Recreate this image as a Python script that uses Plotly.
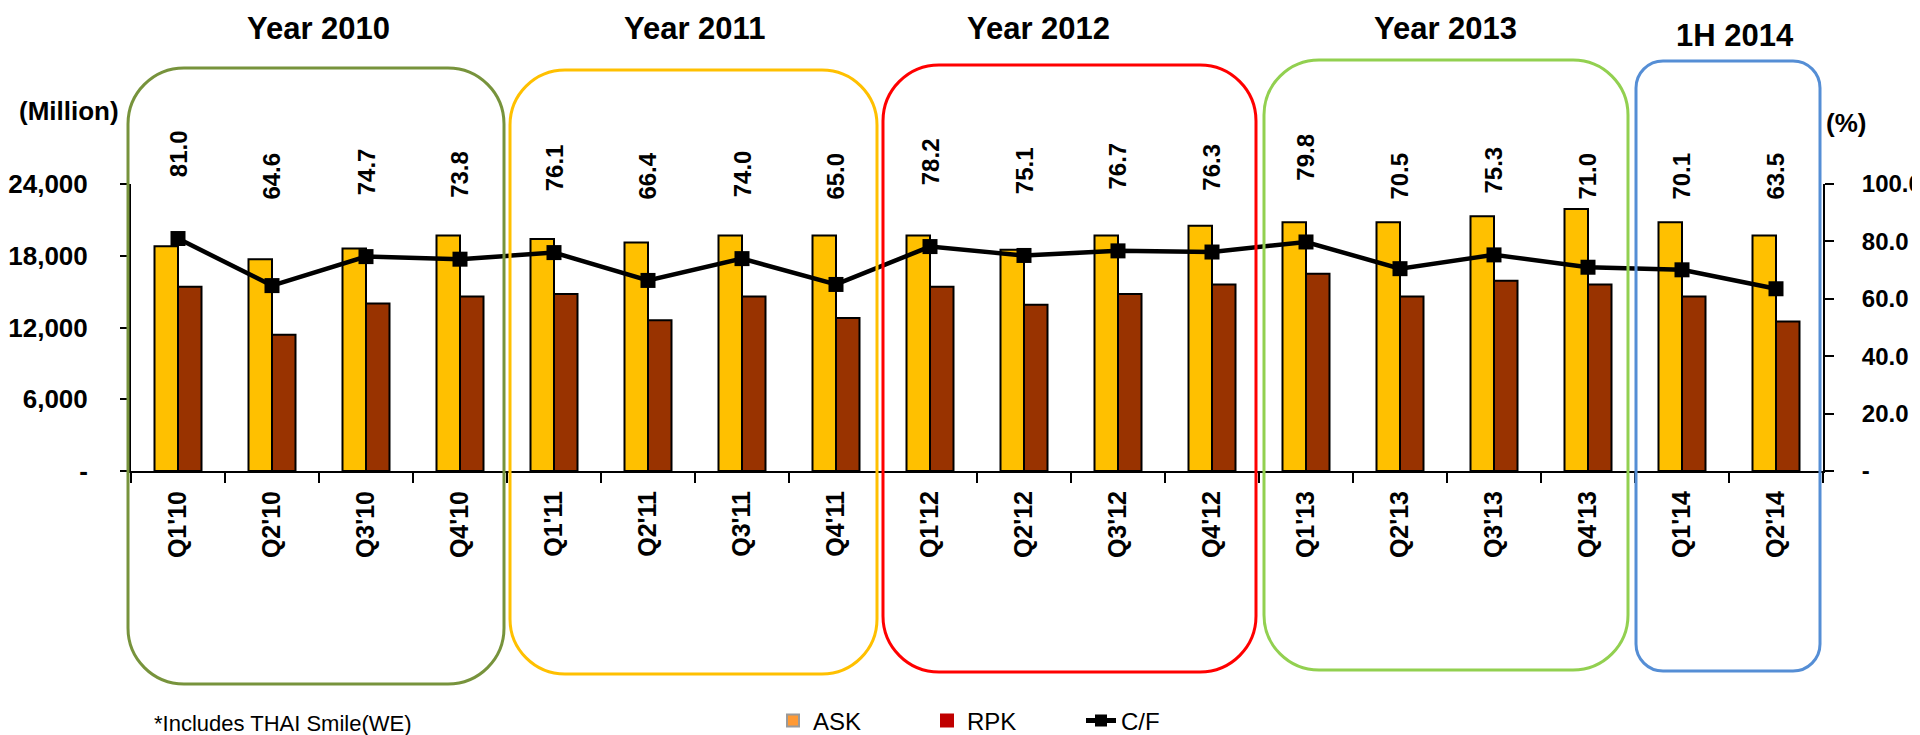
import plotly.graph_objects as go

# ---------------- data ----------------
quarters = ["Q1'10", "Q2'10", "Q3'10", "Q4'10",
            "Q1'11", "Q2'11", "Q3'11", "Q4'11",
            "Q1'12", "Q2'12", "Q3'12", "Q4'12",
            "Q1'13", "Q2'13", "Q3'13", "Q4'13",
            "Q1'14", "Q2'14"]
ask = [18800, 17700, 18600, 19700,
       19400, 19100, 19700, 19700,
       19700, 18500, 19700, 20500,
       20800, 20800, 21300, 21900,
       20800, 19700]
rpk = [15400, 11400, 14000, 14600,
       14800, 12600, 14600, 12800,
       15400, 13900, 14800, 15600,
       16500, 14600, 15900, 15600,
       14600, 12500]
cf = [81.0, 64.6, 74.7, 73.8,
      76.1, 66.4, 74.0, 65.0,
      78.2, 75.1, 76.7, 76.3,
      79.8, 70.5, 75.3, 71.0,
      70.1, 63.5]

left_tickvals = [0, 6000, 12000, 18000, 24000]
left_ticktext = ["-", "6,000", "12,000", "18,000", "24,000"]
right_tickvals = [0, 20, 40, 60, 80, 100]
right_ticktext = ["-", "20.0", "40.0", "60.0", "80.0", "100.0"]

group_titles = ["Year 2010", "Year 2011", "Year 2012", "Year 2013", "1H 2014"]
group_colors = ["#77933C", "#FFC000", "#FF0000", "#92D050", "#558ED5"]

# ---------------- layout geometry (pixels) ----------------
W_FIG, H_FIG = 1920, 735
L, R, T, B = 123, 1815, 176, 463
PW, PH = R - L, B - T
FONT = "Arial, 'Liberation Sans', sans-serif"

# rounded boxes: (x0, y0, x1, y1, radius) in page pixels
boxes = [(120, 60, 496, 676, 56),
         (502, 62, 869, 666, 55),
         (875, 57, 1248, 664, 56),
         (1256, 52, 1620, 662, 55),
         (1628, 53, 1812, 663, 27)]
title_pos = [(310, 20), (686, 20), (1030, 20), (1437, 20), (1727, 27)]


def px(x, y):
    return (x - L) / PW, (B - y) / PH


def rounded_path(x0, y0, x1, y1, r):
    k = 0.5523 * r

    def P(x, y):
        a, b = px(x, y)
        return f"{a:.5f},{b:.5f}"
    s = f"M{P(x0 + r, y0)} L{P(x1 - r, y0)} "
    s += f"C{P(x1 - r + k, y0)} {P(x1, y0 + r - k)} {P(x1, y0 + r)} "
    s += f"L{P(x1, y1 - r)} "
    s += f"C{P(x1, y1 - r + k)} {P(x1 - r + k, y1)} {P(x1 - r, y1)} "
    s += f"L{P(x0 + r, y1)} "
    s += f"C{P(x0 + r - k, y1)} {P(x0, y1 - r + k)} {P(x0, y1 - r)} "
    s += f"L{P(x0, y0 + r)} "
    s += f"C{P(x0, y0 + r - k)} {P(x0 + r - k, y0)} {P(x0 + r, y0)} Z"
    return s


fig = go.Figure()

fig.add_trace(go.Bar(
    x=quarters, y=ask, name="ASK", showlegend=False,
    marker=dict(color="#FFC000", line=dict(color="black", width=2)),
))
fig.add_trace(go.Bar(
    x=quarters, y=rpk, name="RPK", showlegend=False,
    marker=dict(color="#993300", line=dict(color="black", width=2)),
))
fig.add_trace(go.Scatter(
    x=quarters, y=cf, name="C/F", yaxis="y2", mode="lines+markers",
    showlegend=False, cliponaxis=False,
    line=dict(color="black", width=4.5),
    marker=dict(symbol="square", size=15, color="black"),
))

# legend proxies (hidden subplot)
fig.add_trace(go.Bar(x=[None], y=[None], name="ASK", xaxis="x3", yaxis="y3",
                     marker=dict(color="#FF9933", line=dict(color="#9A9A9A", width=1.5))))
fig.add_trace(go.Bar(x=[None], y=[None], name="RPK", xaxis="x3", yaxis="y3",
                     marker=dict(color="#C00000", line=dict(color="#C00000", width=1))))
fig.add_trace(go.Scatter(x=[None], y=[None], name="C/F", xaxis="x3", yaxis="y3",
                         mode="lines+markers", line=dict(color="black", width=5),
                         marker=dict(symbol="square", size=12, color="black")))

shapes = []
for (x0, y0, x1, y1, r), col in zip(boxes, group_colors):
    shapes.append(dict(type="path", xref="paper", yref="paper",
                       path=rounded_path(x0, y0, x1, y1, r),
                       line=dict(color=col, width=3), layer="above"))

annotations = []
for t, (tx, ty) in zip(group_titles, title_pos):
    ax, ay = px(tx, ty)
    annotations.append(dict(text=t, x=ax, y=ay, xref="paper", yref="paper",
                            xanchor="center", yanchor="middle", showarrow=False,
                            font=dict(family=FONT, size=31, color="black", weight="bold")))

# rotated value labels for C/F, placed above the line point
px_per_pct = PH / 100.0
for q, v in zip(quarters, cf):
    lift = max(20.5, 93.7 - v) * px_per_pct
    annotations.append(dict(text=f"{v:.1f}", x=q, y=v, yshift=lift,
                            xref="x", yref="y2", xanchor="center", yanchor="bottom",
                            textangle=-90, showarrow=False,
                            font=dict(family=FONT, size=24, color="black", weight="bold")))

ax, ay = px(61, 103)
annotations.append(dict(text="(Million)", x=ax, y=ay, xref="paper", yref="paper",
                        xanchor="center", yanchor="middle", showarrow=False,
                        font=dict(family=FONT, size=26, color="black", weight="bold")))
ax, ay = px(1838, 115)
annotations.append(dict(text="(%)", x=ax, y=ay, xref="paper", yref="paper",
                        xanchor="center", yanchor="middle", showarrow=False,
                        font=dict(family=FONT, size=26, color="black", weight="bold")))
ax, ay = px(144, 715)
annotations.append(dict(text="*Includes THAI Smile(WE)", x=ax, y=ay, xref="paper", yref="paper",
                        xanchor="left", yanchor="middle", showarrow=False,
                        font=dict(family=FONT, size=22, color="black")))

lx, ly = px(996, 713)

fig.update_layout(
    width=W_FIG, height=H_FIG,
    margin=dict(l=L, r=W_FIG - R, t=T, b=H_FIG - B, autoexpand=False),
    paper_bgcolor="white", plot_bgcolor="white",
    barmode="group", bargap=0.5, bargroupgap=0.0,
    font=dict(family=FONT, color="black"),
    xaxis=dict(type="category", categoryorder="array", categoryarray=quarters,
               range=[-0.5, len(quarters) - 0.5],
               tickson="boundaries", ticks="outside", ticklen=10, tickwidth=2,
               tickcolor="black", showline=True, linecolor="black", linewidth=2,
               showgrid=False, tickangle=-90, ticklabelstandoff=8,
               tickfont=dict(family=FONT, size=25, color="black", weight="bold")),
    yaxis=dict(range=[0, 24000], tickvals=left_tickvals, ticktext=left_ticktext,
               ticks="outside", ticklen=9, tickwidth=2, tickcolor="black",
               showline=True, linecolor="black", linewidth=2, showgrid=False,
               zeroline=False, ticklabelstandoff=27,
               tickfont=dict(family=FONT, size=26, color="black", weight="bold")),
    yaxis2=dict(range=[0, 100], overlaying="y", side="right",
                tickvals=right_tickvals, ticktext=right_ticktext,
                ticks="outside", ticklen=9, tickwidth=2, tickcolor="black",
                showline=True, linecolor="black", linewidth=2, showgrid=False,
                zeroline=False, ticklabelstandoff=23,
                tickfont=dict(family=FONT, size=24, color="black", weight="bold")),
    xaxis3=dict(overlaying="x", visible=False),
    yaxis3=dict(overlaying="y", visible=False),
    legend=dict(orientation="h", x=lx, y=ly, xanchor="center", yanchor="middle",
                font=dict(family=FONT, size=24, color="black"),
                entrywidth=109, bgcolor="rgba(0,0,0,0)", itemsizing="constant"),
    shapes=shapes,
    annotations=annotations,
)

fig.write_html("out.html")
